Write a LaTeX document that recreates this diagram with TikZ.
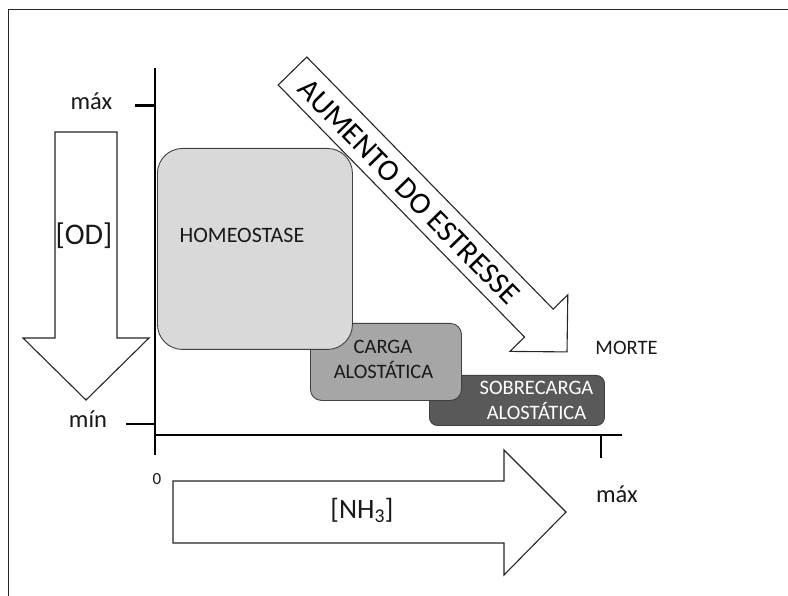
\documentclass[tikz,border=0pt]{standalone}
\usepackage{fontspec}
\setmainfont{Carlito}
\begin{document}
\begin{tikzpicture}[x=1pt,y=-1pt,
  axisline/.style={line width=2.6pt, black},
  fatarrow/.style={draw=black!85, line width=1.1pt, fill=white, line join=miter},
  statebox/.style={draw=black!75, line width=0.9pt, rectangle, inner sep=0pt, anchor=north west},
  lbl/.style={anchor=base, inner sep=0pt, text=black!90},
  boxfont/.style={font=\fontsize{20.5}{24}\selectfont},
  axfont/.style={font=\fontsize{24.5}{28}\selectfont},
  bigfont/.style={font=\fontsize{30}{34}\selectfont},
]
\useasboundingbox (0,0) rectangle (788,596);
% frame
\coordinate (f1) at (8.5,596);
\coordinate (f2) at (8.5,9.5);
\coordinate (f3) at (789,9.5);
\draw[line width=1pt, black!85] (f1) -- (f2) -- (f3);

% state boxes (back to front)
\node[statebox, fill=black!65, rounded corners=8pt, minimum width=175pt, minimum height=50pt] (sobre) at (429,375) {};
\node[statebox, fill=black!35, rounded corners=11pt, minimum width=151pt, minimum height=77pt] (carga) at (310,323) {};
\node[statebox, fill=black!15, rounded corners=25pt, minimum width=195pt, minimum height=201pt] (homeo) at (157,148) {};

% axes
\coordinate (ytop) at (155,68);
\coordinate (ybot) at (155,455);
\coordinate (xleft) at (155,435);
\coordinate (xright) at (622,435);
\draw[axisline] (ytop) -- (ybot);
\draw[axisline] (xleft) -- (xright);
\coordinate (tmax1) at (135,105.5);
\coordinate (tmax2) at (156,105.5);
\coordinate (tmin1) at (126,424);
\coordinate (tmin2) at (155,424);
\coordinate (tx1) at (601,435);
\coordinate (tx2) at (601,458);
\draw[axisline] (tmax1) -- (tmax2);
\draw[axisline] (tmin1) -- (tmin2);
\draw[axisline] (tx1) -- (tx2);

% [OD] arrow (down)
\draw[fatarrow] (55,132) -- (117,132) -- (117,338) -- (149,338) -- (86,400) -- (23,338) -- (55,338) -- cycle;
% [NH3] arrow (right)
\draw[fatarrow] (173,481) -- (504,481) -- (504,450) -- (566,512) -- (504,575) -- (504,543) -- (173,543) -- cycle;
% stress arrow (diagonal)
\begin{scope}[shift={(292.5,71)}, rotate=-45.66]
  \draw[fatarrow] (0,-20) -- (352.5,-20) -- (352.5,-40.5) -- (392.8,0) -- (352.5,40.5) -- (352.5,20) -- (0,20) -- cycle;
  \node[anchor=center, inner sep=0pt, rotate=-45.66, font=\fontsize{30.5}{34}\selectfont, text=black] (stress) at (168,1) {AUMENTO DO ESTRESSE};
\end{scope}

% labels
\node[lbl, axfont] (maxy) at (91.5,110) {máx};
\node[lbl, axfont] (miny) at (88,427) {mín};
\node[lbl, font=\fontsize{17}{20}\selectfont] (zero) at (157,484) {0};
\node[lbl, axfont] (maxx) at (617,502) {máx};
\node[lbl, boxfont] (morte) at (626.5,355) {MORTE};
\node[lbl, font=\fontsize{22}{26}\selectfont] (homeolbl) at (242,243) {HOMEOSTASE};
\node[lbl, boxfont] (carga1) at (383,353) {CARGA};
\node[lbl, boxfont] (carga2) at (383.5,378) {ALOSTÁTICA};
\node[lbl, boxfont, text=white] (sobre1) at (536.5,395) {SOBRECARGA};
\node[lbl, boxfont, text=white] (sobre2) at (536.5,419) {ALOSTÁTICA};
\node[lbl, bigfont] (od) at (84,245) {[OD]};
\node[lbl, font=\fontsize{28}{32}\selectfont] (nh3) at (362,518) {[NH\textsubscript{3}]};
\end{tikzpicture}
\end{document}
